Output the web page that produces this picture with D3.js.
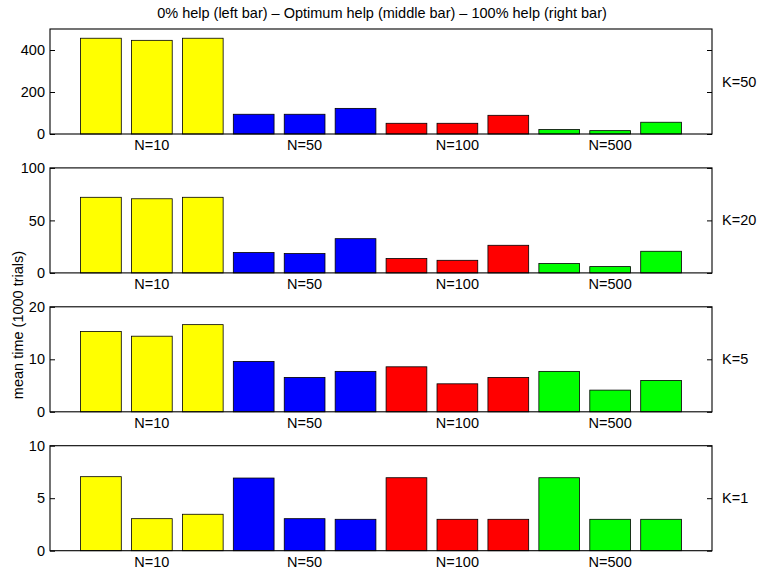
<!DOCTYPE html>
<html>
<head>
<meta charset="utf-8">
<script src="https://cdn.jsdelivr.net/npm/d3@7"></script>
<style>
  body { margin: 0; background: #fff; }
  svg { display: block; font-family: "Liberation Sans", Arial, sans-serif; }
</style>
</head>
<body>
<div id="chart"></div>
<script>
// chart values
const title = "0% help (left bar) \u2013 Optimum help (middle bar) \u2013 100% help (right bar)";
const yLabel = "mean time (1000 trials)";
const groupLabels = ["N=10", "N=50", "N=100", "N=500"];
const kLabels = ["K=50", "K=20", "K=5", "K=1"];
const yMaxes = [500, 100, 20, 10];
const yTicks = [[0, 200, 400], [0, 50, 100], [0, 10, 20], [0, 5, 10]];

// 12 bars per row: for each N, 0% / optimum / 100% help
const k50 = [456, 446, 456, 94, 94, 122, 51, 51, 89, 21, 16, 56];
const k20 = [72, 70.6, 72, 19.4, 18.4, 32.6, 13.7, 12, 26.3, 8.9, 6, 20.6];
const k5 = [15.3, 14.4, 16.6, 9.6, 6.55, 7.7, 8.57, 5.33, 6.55, 7.7, 4.13, 5.98];
const k1 = [7.05, 3.05, 3.47, 6.92, 3.05, 2.99, 6.95, 2.99, 2.99, 6.95, 2.99, 2.99];
const rows = [k50, k20, k5, k1];

const colors = ["#ffff00", "#0000ff", "#ff0000", "#00ff00"];

var width = 758, height = 570;
var left = 50, right = 712;
var firstTop = 29, rowStep = 138.9, panelH = 105;
var fs = "14.5px";

var svg = d3.select("#chart").append("svg")
  .attr("width", width)
  .attr("height", height);

svg.append("text")
  .attr("x", (left + right) / 2 + 1)
  .attr("y", 13)
  .attr("dy", "0.35em")
  .attr("text-anchor", "middle")
  .style("font-size", "14.5px")
  .text(title);

svg.append("text")
  .attr("transform", "translate(18,325) rotate(-90)")
  .attr("dy", "0.35em")
  .attr("text-anchor", "middle")
  .style("font-size", fs)
  .text(yLabel);

// bars sit at 1..12 on a 0..13 axis, width 0.8
const x = d3.scaleLinear().domain([0, 13]).range([left, right]);
const barW = x(0.8) - x(0);

rows.forEach(function (vals, r) {
  var top = firstTop + r * rowStep;
  var bottom = top + panelH;
  var y = d3.scaleLinear().domain([0, yMaxes[r]]).range([bottom, top]);
  var g = svg.append("g");

  // bars
  g.selectAll("rect.bar")
    .data(vals)
    .join("rect")
    .attr("class", "bar")
    .attr("x", (d, i) => x(i + 1) - barW / 2)
    .attr("width", barW)
    .attr("y", d => y(d))
    .attr("height", d => bottom - y(d))
    .attr("fill", (d, i) => colors[Math.floor(i / 3)])
    .attr("stroke", "#000")
    .attr("stroke-width", 0.8);

  // left axis, ticks pointing inward
  g.append("g")
    .attr("transform", `translate(${left},0)`)
    .call(d3.axisRight(y).tickValues(yTicks[r]).tickSize(5).tickFormat(d3.format("d")))
    .call(a => a.select(".domain").remove())
    .call(a => a.selectAll("text")
      .attr("x", -5)
      .attr("text-anchor", "end")
      .style("font-size", fs)
      .style("font-family", "Liberation Sans, Arial, sans-serif")
      .attr("fill", "#000"));

  // mirrored ticks on the right side
  g.append("g")
    .attr("transform", `translate(${right},0)`)
    .call(d3.axisLeft(y).tickValues(yTicks[r]).tickSize(5).tickFormat(""))
    .call(a => a.select(".domain").remove());

  // box
  g.append("rect")
    .attr("x", left)
    .attr("y", top)
    .attr("width", right - left)
    .attr("height", panelH)
    .attr("fill", "none")
    .attr("stroke", "#000")
    .attr("stroke-width", 1.1);

  // group labels under the middle bar of each triple
  g.selectAll("text.grp")
    .data(groupLabels)
    .join("text")
    .attr("class", "grp")
    .attr("x", (d, i) => x(i * 3 + 2))
    .attr("y", bottom + 11)
    .attr("dy", "0.35em")
    .attr("text-anchor", "middle")
    .style("font-size", fs)
    .text(d => d);

  // K label on the right, centred on the panel
  g.append("text")
    .attr("x", right + 10)
    .attr("y", (top + bottom) / 2)
    .attr("dy", "0.35em")
    .style("font-size", fs)
    .text(kLabels[r]);
});
</script>
</body>
</html>
